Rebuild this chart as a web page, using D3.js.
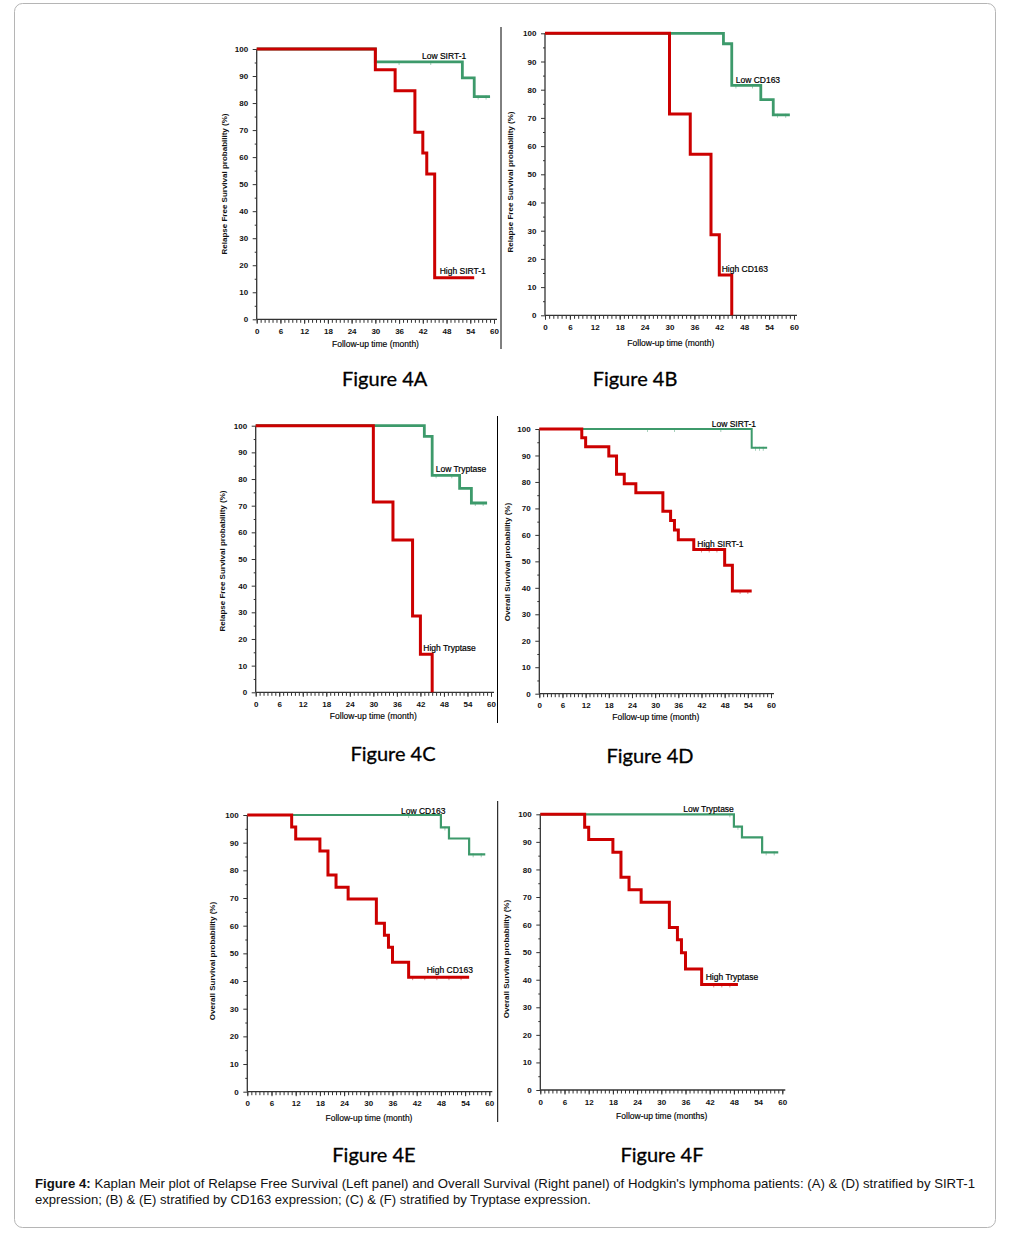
<!DOCTYPE html>
<html>
<head>
<meta charset="utf-8">
<script src="https://cdn.jsdelivr.net/npm/d3@7"></script>
<style>
  html, body { margin: 0; padding: 0; background: #fff; }
  svg { display: block; }
</style>
</head>
<body>
<svg id="fig" width="1015" height="1237"></svg>
<script>
// ---------------- DATA ----------------
const monthTicks = [0, 6, 12, 18, 24, 30, 36, 42, 48, 54, 60];
const pctTicks = [0, 10, 20, 30, 40, 50, 60, 70, 80, 90, 100];

// Panel A: Relapse Free Survival, SIRT-1
const aLowTime  = [0, 30, 52, 55, 59];
const aLowSurv  = [100, 95.2, 89.3, 82.4, 82.4];
const aHighTime = [0, 30, 35, 40, 42, 43, 45, 55];
const aHighSurv = [100, 92.3, 84.6, 69.2, 61.5, 53.8, 15.4, 15.4];

// Panel B: Relapse Free Survival, CD163
const bLowTime  = [0, 43, 45, 52, 55, 59];
const bLowSurv  = [100, 96.3, 81.5, 76.5, 71.1, 71.1];
const bHighTime = [0, 30, 35, 40, 42, 45];
const bHighSurv = [100, 71.4, 57.1, 28.6, 14.3, 0];

// Panel C: Relapse Free Survival, Tryptase
const cLowTime  = [0, 43, 45, 52, 55, 59];
const cLowSurv  = [100, 96.0, 81.4, 76.5, 71.0, 71.0];
const cHighTime = [0, 30, 35, 40, 42, 45];
const cHighSurv = [100, 71.4, 57.1, 28.6, 14.3, 0];

// Panel D: Overall Survival, SIRT-1
const dLowTime  = [0, 55, 59];
const dLowSurv  = [100, 92.9, 92.9];
const dHighTime = [0, 11, 12, 18, 20, 22, 25, 32, 34, 35, 36, 40, 48, 50, 55];
const dHighSurv = [100, 96.7, 93.3, 89.8, 82.9, 79.3, 75.9, 68.9, 65.4, 61.8, 58.2, 54.5, 48.5, 38.8, 38.8];

// Panel E: Overall Survival, CD163
const eLowTime  = [0, 48, 50, 55, 59];
const eLowSurv  = [100, 95.5, 91.5, 85.8, 85.8];
const eHighTime = [0, 11, 12, 18, 20, 22, 25, 32, 34, 35, 36, 40, 55];
const eHighSurv = [100, 95.7, 91.3, 87.0, 78.3, 73.9, 69.6, 60.9, 56.5, 52.2, 46.8, 41.4, 41.4];

// Panel F: Overall Survival, Tryptase
const fLowTime  = [0, 48, 50, 55, 59];
const fLowSurv  = [100, 95.5, 91.6, 86.2, 86.2];
const fHighTime = [0, 11, 12, 18, 20, 22, 25, 32, 34, 35, 36, 40, 49];
const fHighSurv = [100, 95.3, 90.9, 86.2, 77.2, 72.6, 68.1, 58.9, 54.5, 49.8, 43.9, 38.3, 38.3];

// censored observations (months)
const aLowCens  = [36, 44, 56, 58];
const bLowCens  = [46, 50, 56, 58];
const cLowCens  = [46, 50, 56, 58];
const dLowCens  = [28, 35, 47, 56, 57, 58];
const dHighCens = [42, 44, 46, 52, 54];
const eLowCens  = [40, 49, 56, 58];
const eHighCens = [41, 44, 47, 50, 53];
const fLowCens  = [47, 49, 56, 58];
const fHighCens = [43, 45, 47];

const seriesNames = {
  A: ["Low SIRT-1", "High SIRT-1"],
  B: ["Low CD163", "High CD163"],
  C: ["Low Tryptase", "High Tryptase"],
  D: ["Low SIRT-1", "High SIRT-1"],
  E: ["Low CD163", "High CD163"],
  F: ["Low Tryptase", "High Tryptase"]
};
const yTitles = {
  A: "Relapse Free Survival probability (%)",
  B: "Relapse Free Survival probability (%)",
  C: "Relapse Free Survival probability (%)",
  D: "Overall Survival probability (%)",
  E: "Overall Survival probability (%)",
  F: "Overall Survival probability (%)"
};
const xTitles = {
  A: "Follow-up time (month)", B: "Follow-up time (month)", C: "Follow-up time (month)",
  D: "Follow-up time (month)", E: "Follow-up time (month)", F: "Follow-up time (months)"
};
const figureLabels = { A: "Figure 4A", B: "Figure 4B", C: "Figure 4C", D: "Figure 4D", E: "Figure 4E", F: "Figure 4F" };
const captionBold = "Figure 4:";
const captionLine1 = " Kaplan Meir plot of Relapse Free Survival (Left panel) and Overall Survival (Right panel) of Hodgkin's lymphoma patients: (A) & (D) stratified by SIRT-1";
const captionLine2 = "expression; (B) & (E) stratified by CD163 expression; (C) & (F) stratified by Tryptase expression.";

const panelData = {
  A: { low: [aLowTime, aLowSurv, aLowCens], high: [aHighTime, aHighSurv, []] },
  B: { low: [bLowTime, bLowSurv, bLowCens], high: [bHighTime, bHighSurv, []] },
  C: { low: [cLowTime, cLowSurv, cLowCens], high: [cHighTime, cHighSurv, []] },
  D: { low: [dLowTime, dLowSurv, dLowCens], high: [dHighTime, dHighSurv, dHighCens] },
  E: { low: [eLowTime, eLowSurv, eLowCens], high: [eHighTime, eHighSurv, eHighCens] },
  F: { low: [fLowTime, fLowSurv, fLowCens], high: [fHighTime, fHighSurv, fHighCens] }
};

// ---------------- LAYOUT ----------------
const layout = {
  A: { x0: 256.7, x1: 494, yTop: 49, yBot: 319.3, yT: [224, 184], xT: [375.5, 346.5], fig: [384.7, 386],
       lowLab: [422, 58.5], highLab: [439.7, 274], lowW: 2.8, highW: 3 },
  B: { x0: 545, x1: 794, yTop: 33.3, yBot: 315.3, yT: [510, 182], xT: [670.8, 345.5], fig: [635, 386],
       lowLab: [735.7, 82.5], highLab: [721.7, 271.5], lowW: 2.8, highW: 3 },
  C: { x0: 255.7, x1: 491, yTop: 425.7, yBot: 692.3, yT: [221.7, 561], xT: [373.3, 719], fig: [393, 761],
       lowLab: [435.7, 471.5], highLab: [423.3, 651], lowW: 2.8, highW: 3 },
  D: { x0: 539.3, x1: 771, yTop: 429, yBot: 693.7, yT: [506.7, 562], xT: [655.8, 719.5], fig: [650, 763],
       lowLab: [711.7, 427.3], highLab: [697.3, 547], lowW: 2, highW: 3 },
  E: { x0: 247.3, x1: 489.3, yTop: 815, yBot: 1091.7, yT: [212.3, 961], xT: [369, 1120.5], fig: [374, 1162],
       lowLab: [401, 813.5], highLab: [426.7, 973], lowW: 2.2, highW: 3 },
  F: { x0: 540.3, x1: 782.3, yTop: 814.3, yBot: 1090, yT: [506, 959], xT: [661.7, 1118.5], fig: [662, 1162],
       lowLab: [683.3, 811.8], highLab: [705.7, 980.3], lowW: 2.2, highW: 3 }
};
const dividers = [[501, 27, 349], [497.5, 416, 723], [497.7, 801, 1122]];
const RED = "#cc0000", GREEN = "#3d9a6b", AXIS = "#333", INK = "#111";
const FONT = "'Liberation Sans', Arial, sans-serif";

const svg = d3.select("#fig");

// outer border
svg.append("rect").attr("x", 14.5).attr("y", 3.5).attr("width", 981).attr("height", 1224)
  .attr("rx", 8).attr("fill", "none").attr("stroke", "#b5b5b5").attr("stroke-width", 1);

dividers.forEach(([x, y1, y2]) => {
  svg.append("line").attr("x1", x).attr("x2", x).attr("y1", y1).attr("y2", y2)
    .attr("stroke", "#000").attr("stroke-width", 1);
});

Object.keys(layout).forEach(key => {
  const L = layout[key];
  const g = svg.append("g");
  const x = d3.scaleLinear().domain([0, 60]).range([L.x0, L.x1]);
  const y = d3.scaleLinear().domain([0, 100]).range([L.yBot, L.yTop]);

  // x axis: minor ticks every month
  const xAx = g.append("g").attr("transform", `translate(0,${L.yBot})`);
  xAx.call(d3.axisBottom(x).tickValues(d3.range(0, 61, 1)).tickSize(3.5).tickFormat(""));
  xAx.append("g").call(d3.axisBottom(x).tickValues(monthTicks).tickSize(4.5).tickFormat(d3.format("d")));
  xAx.selectAll(".domain").remove();
  xAx.append("line").attr("x1", L.x0).attr("x2", L.x1 + 3).attr("stroke", AXIS).attr("stroke-width", 1.3);
  xAx.selectAll("line").attr("stroke", AXIS);
  xAx.selectAll("text").attr("font-family", FONT).attr("font-size", 8).attr("font-weight", "bold")
    .attr("fill", INK).attr("dy", "0.9em");

  // y axis
  const yAx = g.append("g").attr("transform", `translate(${L.x0},0)`);
  yAx.call(d3.axisLeft(y).tickValues(d3.range(5, 100, 10)).tickSize(2).tickFormat(""));
  yAx.append("g").call(d3.axisLeft(y).tickValues(pctTicks).tickSize(4).tickFormat(d3.format("d")));
  yAx.selectAll(".domain").remove();
  yAx.append("line").attr("y1", L.yTop).attr("y2", L.yBot).attr("stroke", AXIS).attr("stroke-width", 1.3);
  yAx.selectAll("line").attr("stroke", AXIS);
  yAx.selectAll("text").attr("font-family", FONT).attr("font-size", 8).attr("font-weight", "bold")
    .attr("fill", INK).attr("dx", "-0.2em");

  // titles
  g.append("text").attr("transform", `translate(${L.yT[0]},${L.yT[1]}) rotate(-90)`)
    .attr("text-anchor", "middle").attr("dy", "0.35em")
    .attr("font-family", FONT).attr("font-size", 8).attr("font-weight", "bold").attr("fill", INK)
    .text(yTitles[key]);
  g.append("text").attr("x", L.xT[0]).attr("y", L.xT[1]).attr("text-anchor", "middle")
    .attr("font-family", FONT).attr("font-size", 8.5).attr("fill", "#000")
    .attr("stroke", "#000").attr("stroke-width", 0.15)
    .text(xTitles[key]);

  // curves
  const line = d3.line().x(d => x(d[0])).y(d => y(d[1])).curve(d3.curveStepAfter);
  const stepVal = (times, surv, t) => {
    let v = surv[0];
    for (let i = 0; i < times.length; i++) if (times[i] <= t) v = surv[i];
    return v;
  };
  [["low", GREEN, L.lowW], ["high", RED, L.highW]].forEach(([k, col, w]) => {
    const [times, surv, cens] = panelData[key][k];
    const pts = times.map((t, i) => [t, surv[i]]);
    g.append("path").attr("d", line(pts)).attr("fill", "none").attr("stroke", col)
      .attr("stroke-width", w).attr("stroke-linejoin", "miter").attr("stroke-linecap", "butt");
    g.selectAll(null).data(cens).enter().append("line")
      .attr("x1", d => x(d)).attr("x2", d => x(d))
      .attr("y1", d => y(stepVal(times, surv, d)) - 1).attr("y2", d => y(stepVal(times, surv, d)) + 3)
      .attr("stroke", col).attr("stroke-width", 0.8).attr("opacity", 0.6);
  });

  // series labels
  [[L.lowLab, seriesNames[key][0]], [L.highLab, seriesNames[key][1]]].forEach(([p, t]) => {
    g.append("text").attr("x", p[0]).attr("y", p[1])
      .attr("font-family", FONT).attr("font-size", 8.5).attr("fill", "#000")
      .attr("stroke", "#000").attr("stroke-width", 0.2).text(t);
  });

  // figure label
  svg.append("text").attr("x", L.fig[0]).attr("y", L.fig[1]).attr("text-anchor", "middle")
    .attr("font-family", "Lato, 'Open Sans', sans-serif").attr("font-size", 20).attr("fill", "#000")
    .attr("stroke", "#000").attr("stroke-width", 0.3)
    .text(figureLabels[key]);
});

// caption
const cap1 = svg.append("text").attr("x", 35).attr("y", 1188)
  .attr("font-family", FONT).attr("font-size", 13.5).attr("fill", "#111")
  .attr("textLength", 940).attr("lengthAdjust", "spacingAndGlyphs");
cap1.append("tspan").attr("font-weight", "bold").text(captionBold);
cap1.append("tspan").text(captionLine1);
svg.append("text").attr("x", 35).attr("y", 1204)
  .attr("font-family", FONT).attr("font-size", 13.5).attr("fill", "#111")
  .attr("textLength", 556).attr("lengthAdjust", "spacingAndGlyphs")
  .text(captionLine2);
</script>
</body>
</html>
